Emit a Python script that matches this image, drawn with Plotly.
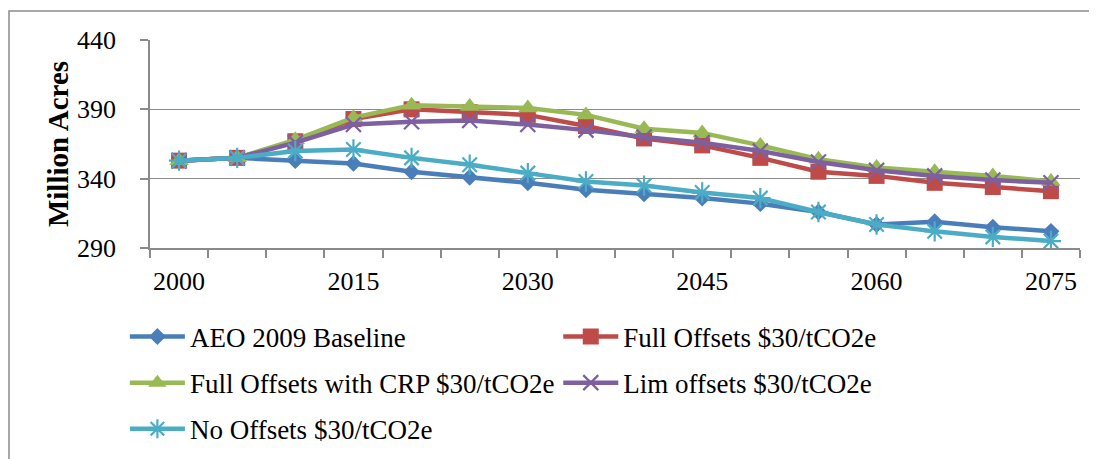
import plotly.graph_objects as go

years = [2000, 2005, 2010, 2015, 2020, 2025, 2030, 2035, 2040, 2045, 2050, 2055, 2060, 2065, 2070, 2075]
aeo_baseline = [353, 355, 353, 351, 345, 341, 337, 332, 329, 326, 322, 316, 307, 309, 305, 302]
full_offsets = [353, 355, 367, 383, 390, 388, 386, 378, 369, 364, 355, 345, 342, 337, 334, 331]
full_offsets_crp = [353, 355, 368, 384, 393, 392, 391, 386, 376, 373, 364, 354, 348, 345, 342, 338]
lim_offsets = [353, 355, 366, 379, 381, 382, 379, 375, 370, 366, 360, 352, 346, 342, 339, 337]
no_offsets = [353, 355, 360, 361, 355, 350, 344, 338, 335, 330, 326, 316, 307, 302, 298, 295]
x_tick_labels = [2000, 2015, 2030, 2045, 2060, 2075]

FONT = "Liberation Serif"
GRID = "#8a8a8a"

series = [
    ("AEO 2009 Baseline", aeo_baseline, "#4A7EBB", dict(symbol="diamond", size=13), "legend", "g1"),
    ("Full Offsets $30/tCO2e", full_offsets, "#BE4B48", dict(symbol="square", size=16), "legend2", "g2"),
    ("Full Offsets with CRP $30/tCO2e", full_offsets_crp, "#98B954", dict(symbol="triangle-up", size=17), "legend", "g3"),
    ("Lim offsets $30/tCO2e", lim_offsets, "#7D60A0", dict(symbol="x-thin", size=15, line=dict(width=2.2, color="#7D60A0")), "legend2", "g4"),
    ("No Offsets $30/tCO2e", no_offsets, "#4BACC6", dict(symbol="asterisk", size=17, line=dict(width=2.2, color="#4BACC6")), "legend", "g5"),
]

fig = go.Figure()
for name, vals, color, marker, leg, grp in series:
    m = dict(color=color, **marker)
    fig.add_trace(go.Scatter(
        x=years, y=vals, name=name, mode="lines+markers",
        line=dict(color=color, width=4.5),
        marker=m, legend=leg, legendgroup=grp,
    ))

legend_common = dict(
    orientation="v", xanchor="left", yanchor="top",
    font=dict(family=FONT, size=27, color="black"),
    bgcolor="rgba(0,0,0,0)", tracegroupgap=8, itemwidth=55,
)

fig.update_layout(
    width=1089, height=451,
    margin=dict(l=142, r=17, t=32, b=211, autoexpand=False),
    paper_bgcolor="white", plot_bgcolor="white",
    font=dict(family=FONT, color="black"),
    showlegend=True,
    legend=dict(x=-0.027, y=-0.31, **legend_common),
    legend2=dict(x=0.439, y=-0.31, **legend_common),
    xaxis=dict(
        range=[1997.5, 2077.5],
        tickmode="array", tickvals=x_tick_labels, ticktext=[str(v) for v in x_tick_labels],
        ticks="", showgrid=False, zeroline=False,
        showline=True, linecolor=GRID, linewidth=1.5,
        tickfont=dict(family=FONT, size=26, color="black"),
        ticklabelstandoff=9,
        minor=dict(tickmode="linear", tick0=1997.5, dtick=5, ticks="outside",
                   ticklen=8, tickwidth=1.5, tickcolor=GRID, showgrid=False),
    ),
    yaxis=dict(
        range=[290, 440], tickmode="linear", tick0=290, dtick=50,
        showgrid=True, gridcolor=GRID, gridwidth=1.4, zeroline=False,
        showline=True, linecolor=GRID, linewidth=1.5,
        ticks="outside", ticklen=8, tickwidth=1.5, tickcolor=GRID,
        tickfont=dict(family=FONT, size=26, color="black"),
        ticklabelstandoff=19,
        title=dict(text="<b>Million Acres</b>", standoff=0,
                   font=dict(family=FONT, size=29, color="black")),
    ),
    shapes=[dict(type="rect", xref="paper", yref="paper",
                 x0=(9 - 150) / 930, x1=(1110 - 150) / 930,
                 y0=(248 - 470) / 208, y1=(248 - 11) / 208,
                 line=dict(color="#8a8a8a", width=1.5), fillcolor="rgba(0,0,0,0)", layer="below")],
)

fig.write_html("out.html")
